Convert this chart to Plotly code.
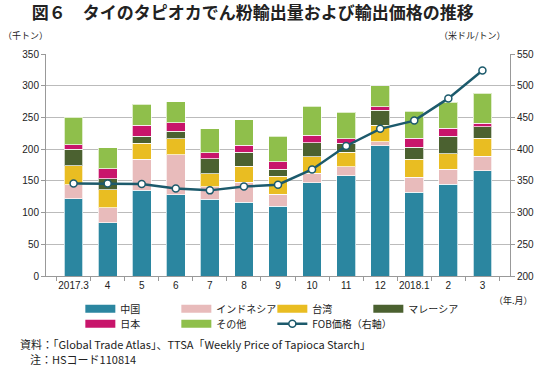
import plotly.graph_objects as go

months = ["2017.3", "4", "5", "6", "7", "8", "9", "10", "11", "12", "2018.1", "2", "3"]
china = [122, 84, 135, 128, 121, 116, 110, 147, 158, 205, 132, 145, 166]
indonesia = [22, 24, 49, 63, 20, 32, 19, 15, 14, 7, 24, 23, 23]
taiwan = [30, 28, 25, 25, 20, 25, 28, 26, 23, 26, 28, 25, 28]
malaysia = [26, 17, 11, 12, 24, 22, 11, 22, 14, 23, 19, 27, 18]
japan = [7, 16, 18, 14, 9, 11, 12, 12, 7, 6, 14, 13, 6]
others = [43, 33, 33, 33, 38, 40, 40, 46, 42, 33, 43, 41, 47]
fob = [346, 346, 345, 338, 335, 341, 344, 368, 405, 432, 445, 480, 524]

series = [
    ("中国", china, "#2b86a0"),
    ("インドネシア", indonesia, "#e8bbbb"),
    ("台湾", taiwan, "#e9bd22"),
    ("マレーシア", malaysia, "#4b6130"),
    ("日本", japan, "#c8156b"),
    ("その他", others, "#8fbf4b"),
]
line_color = "#1c5a6c"
FONT = "Liberation Sans, Noto Sans CJK JP, sans-serif"
JP = "Noto Sans CJK JP, sans-serif"

fig = go.Figure()
for name, vals, col in series:
    fig.add_trace(go.Bar(x=months, y=vals, name=name,
                         marker=dict(color=col, line=dict(color="rgba(255,255,255,0.7)", width=1)),
                         showlegend=False, hoverinfo="skip"))

# legend proxies
for i, (name, vals, col) in enumerate(series):
    fig.add_trace(go.Scatter(x=[None], y=[None], mode="lines", name=name,
                             line=dict(color=col, width=8),
                             legend="legend" if i < 4 else "legend2"))

fig.add_trace(go.Scatter(x=months, y=fob, name="FOB価格（右軸）", yaxis="y2", mode="lines+markers",
                         line=dict(color=line_color, width=2.5),
                         marker=dict(size=7, color="white", line=dict(color=line_color, width=1.5)),
                         legend="legend2", hoverinfo="skip"))
# spacer entries so the last visible legend labels are not clipped
for lg in ["legend", "legend2"]:
    fig.add_trace(go.Scatter(x=[None], y=[None], mode="lines", name=" ",
                             line=dict(color="rgba(0,0,0,0)", width=1), legend=lg))

leg_common = dict(orientation="h", x=0.074, xanchor="left", yanchor="top", traceorder="normal",
                  entrywidth=51, font=dict(family=JP, size=10), bgcolor="rgba(0,0,0,0)", itemwidth=30)

fig.update_layout(
    width=546, height=368,
    margin=dict(l=46, r=26, t=54, b=92),
    barmode="stack", bargap=0.45,
    plot_bgcolor="white", paper_bgcolor="white",
    font=dict(family=FONT, size=10, color="#222"),
    hovermode=False,
    xaxis=dict(type="category", showline=True, linecolor="#999", linewidth=1, tickangle=0,
               ticks="outside", tickson="boundaries", ticklen=4, tickcolor="#999",
               tickfont=dict(size=10)),
    yaxis=dict(range=[0, 350], dtick=50, showgrid=True, gridcolor="#bbbbbb", gridwidth=1,
               showline=True, linecolor="#999", ticks="outside", ticklen=4, tickcolor="#999",
               zeroline=False, tickfont=dict(size=10)),
    yaxis2=dict(range=[200, 550], dtick=50, overlaying="y", side="right", showgrid=False,
                showline=True, linecolor="#999", ticks="outside", ticklen=4, tickcolor="#999",
                zeroline=False, tickfont=dict(size=10)),
    legend=dict(y=-0.082, **leg_common),
    legend2=dict(y=-0.150, **leg_common),
    title=dict(text="<b>図６　タイのタピオカでん粉輸出量および輸出価格の推移</b>", x=0.463, xanchor="center",
               y=0.965, yanchor="middle", font=dict(family=JP, size=17, color="#222")),
)

ann = [
    dict(text="（千トン）", x=0, y=36, xanchor="left"),
    dict(text="（米ドル/トン）", x=518, y=36, xanchor="right"),
    dict(text="（年.月）", x=546, y=300, xanchor="right"),
    dict(text="資料：「Global Trade Atlas」、TTSA「Weekly Price of Tapioca Starch」", x=17, y=344, xanchor="left", size=11),
    dict(text="注：HSコード110814", x=28, y=359, xanchor="left", size=11),
]
for a in ann:
    fig.add_annotation(text=a["text"], xref="paper", yref="paper",
                       x=(a["x"] - 46) / 474, y=(276 - a["y"]) / 222,
                       xanchor=a["xanchor"], yanchor="middle", showarrow=False,
                       font=dict(family=JP, size=a.get("size", 9), color="#222"))

fig.write_html("out.html", config={"displayModeBar": False, "staticPlot": True},
               post_script="document.body.style.margin='0px';")
